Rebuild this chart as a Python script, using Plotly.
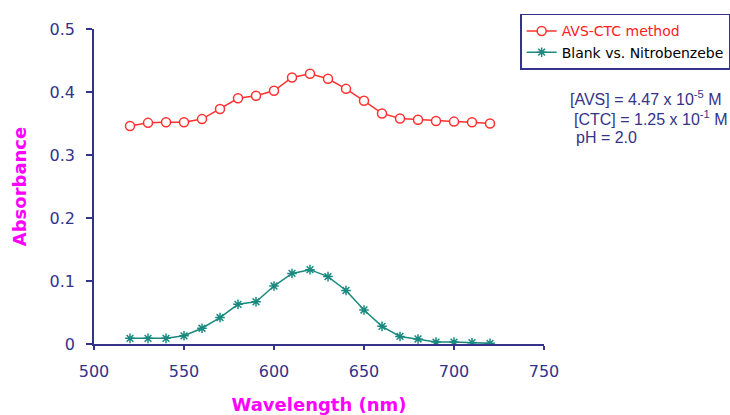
import plotly.graph_objects as go

wavelength = [520, 530, 540, 550, 560, 570, 580, 590, 600, 610, 620,
              630, 640, 650, 660, 670, 680, 690, 700, 710, 720]
avs_ctc = [0.346, 0.351, 0.352, 0.352, 0.357, 0.373, 0.390, 0.394, 0.402, 0.423, 0.429,
           0.421, 0.405, 0.386, 0.366, 0.358, 0.356, 0.354, 0.353, 0.352, 0.350]
blank = [0.009, 0.009, 0.009, 0.013, 0.025, 0.042, 0.063, 0.067, 0.092, 0.112, 0.118,
         0.107, 0.085, 0.054, 0.028, 0.012, 0.008, 0.003, 0.003, 0.002, 0.001]
x_ticks = [500, 550, 600, 650, 700, 750]
y_ticks = [0, 0.1, 0.2, 0.3, 0.4, 0.5]
y_tick_text = ["0", "0.1", "0.2", "0.3", "0.4", "0.5"]

navy = "#33338a"
red = "#ff3030"
teal = "#1a8a80"
magenta = "#ff00ff"

fig = go.Figure()
fig.add_trace(go.Scatter(
    x=wavelength, y=avs_ctc, mode="lines+markers",
    name="<span style='color:#ff2020'>AVS-CTC method</span>",
    line=dict(color=red, width=1.5),
    marker=dict(symbol="circle", size=9, color="white", line=dict(color=red, width=1.5)),
))
fig.add_trace(go.Scatter(
    x=wavelength, y=blank, mode="lines+markers",
    name="Blank vs. Nitrobenzebe",
    line=dict(color=teal, width=1.5),
    marker=dict(symbol="asterisk-open", size=8, color=teal, line=dict(color=teal, width=1.5)),
))

axis_common = dict(showgrid=False, zeroline=False, showline=True, linecolor=navy,
                   linewidth=1.5, tickcolor=navy, tickwidth=1.5)

fig.update_layout(
    width=730, height=415,
    margin=dict(l=94, r=186, t=29, b=71, autoexpand=False),
    paper_bgcolor="white", plot_bgcolor="white",
    font=dict(family="DejaVu Sans", color=navy),
    xaxis=dict(range=[500, 750], tickvals=x_ticks, ticks="outside", ticklen=4,
               ticklabelstandoff=8, automargin=False,
               tickfont=dict(size=16, color=navy),
               title=dict(text="<b>Wavelength (nm)</b>", font=dict(size=18, color=magenta), standoff=18),
               **axis_common),
    yaxis=dict(range=[0, 0.5], tickvals=y_ticks, ticktext=y_tick_text, ticks="outside", ticklen=6,
               ticklabelstandoff=8, automargin=False,
               tickfont=dict(size=16, color=navy),
               title=dict(text="<b>Absorbance</b>", font=dict(size=18, color=magenta), standoff=18),
               **axis_common),
    xaxis2=dict(range=[500, 750], tickvals=x_ticks, ticks="inside", ticklen=6, overlaying="x",
                showticklabels=False, **axis_common),
    yaxis2=dict(range=[0, 0.5], tickvals=y_ticks, ticks="inside", ticklen=5, overlaying="y",
                showticklabels=False, **axis_common),
    showlegend=True,
    legend=dict(x=0.947, y=1.048, xanchor="left", yanchor="top",
                bgcolor="white", bordercolor=navy, borderwidth=1.5,
                font=dict(family="DejaVu Sans", size=14, color="black"),
                tracegroupgap=0),
)

notes = ["[AVS] = 4.47 x 10<sup>-5</sup> M", "[CTC] = 1.25 x 10<sup>-1</sup> M", "pH = 2.0"]
note_x = [568, 572, 574]
note_y = [98, 118, 137]
for t, nx, ny in zip(notes, note_x, note_y):
    fig.add_annotation(text=t, xref="paper", yref="paper",
                       x=(nx - 94) / 450, y=(344 - ny) / 315,
                       xanchor="left", yanchor="middle", showarrow=False,
                       font=dict(family="Liberation Sans", size=16, color=navy))

fig.write_html("out.html", config={"displayModeBar": False},
               post_script="document.body.style.margin='0px';")
